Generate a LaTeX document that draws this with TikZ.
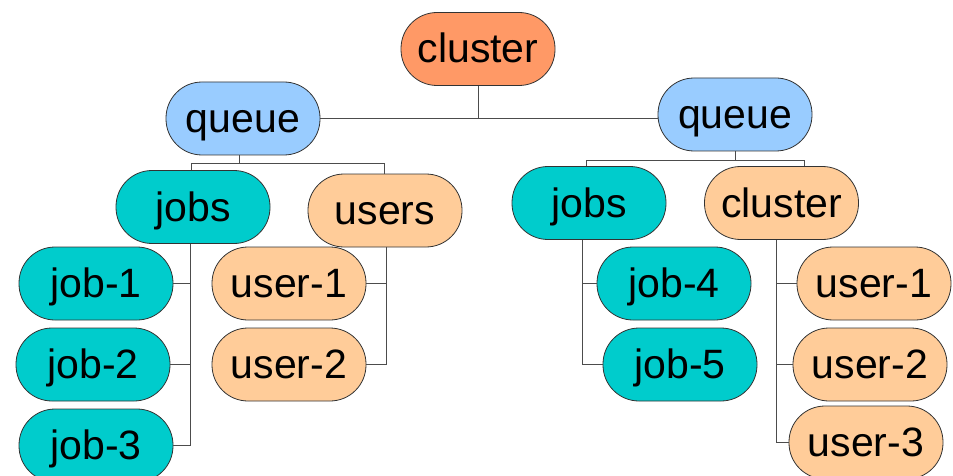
\documentclass[tikz,border=0pt]{standalone}
\usepackage{fontspec}
\setmainfont{Liberation Sans}
\definecolor{rootorange}{HTML}{FF9966}
\definecolor{queueblue}{HTML}{99CCFF}
\definecolor{jobteal}{HTML}{00CCCC}
\definecolor{userpeach}{HTML}{FFCC99}
\begin{document}
\begin{tikzpicture}[x=1pt,y=-1pt,
  box/.style={draw=black!80, line width=0.8pt, rounded corners=36pt,
    minimum width=154pt, minimum height=73pt, inner sep=0pt,
    text height=29pt, text depth=1pt,
    font=\fontsize{41}{48}\selectfont},
  rootbox/.style={box, fill=rootorange},
  queuebox/.style={box, fill=queueblue},
  jobbox/.style={box, fill=jobteal},
  userbox/.style={box, fill=userpeach},
  link/.style={draw=black!70, line width=0.9pt}]
\useasboundingbox (0,0) rectangle (953,476);
\clip (0,0) rectangle (953,476);

% root and queues
\node[rootbox]  (top) at (478,49)    {cluster};
\node[queuebox] (qL)  at (243,118.5) {queue};
\node[queuebox] (qR)  at (735,114.5) {queue};

% left queue subtree
\node[jobbox]  (jobsL)  at (193,207)   {jobs};
\node[userbox] (users)  at (385,210.5) {users};
\node[jobbox]  (job1)   at (96,283.5)  {job-1};
\node[jobbox]  (job2)   at (93,364.5)  {job-2};
\node[jobbox]  (job3)   at (96,445.5)  {job-3};
\node[userbox] (uL1)    at (289,283.5) {user-1};
\node[userbox] (uL2)    at (289,364.5) {user-2};

% right queue subtree
\node[jobbox]  (jobsR)  at (589,203)   {jobs};
\node[userbox] (clR)    at (781.5,203) {cluster};
\node[jobbox]  (job4)   at (674,283.5) {job-4};
\node[jobbox]  (job5)   at (680,364.5) {job-5};
\node[userbox] (uR1)    at (874,283.5) {user-1};
\node[userbox] (uR2)    at (870,364.5) {user-2};
\node[userbox] (uR3)    at (866,442.5) {user-3};

% root to queues
\draw[link] (top.south) -- (top.south |- qL.east);
\draw[link] (qL.east) -- (qR.west |- qL.east);

% left queue bar
\coordinate (qLb)    at (239,163);
\coordinate (jLdrop) at (191,163);
\coordinate (uLdrop) at (384,163);
\draw[link] (qL.south -| qLb) -- (qLb);
\draw[link] (jobsL.north -| jLdrop) -- (jLdrop) -- (uLdrop) -- (users.north -| uLdrop);

% right queue bar
\coordinate (qRb)    at (735,160);
\coordinate (jRdrop) at (586,160);
\coordinate (cRdrop) at (804,160);
\draw[link] (qR.south -| qRb) -- (qRb);
\draw[link] (jobsR.north -| jRdrop) -- (jRdrop) -- (cRdrop) -- (clR.north -| cRdrop);

% spines
\coordinate (jLspine) at (190.5,240);
\coordinate (uLspine) at (386,240);
\coordinate (jRspine) at (582,240);
\coordinate (cRspine) at (776,240);

\draw[link] (jobsL.south -| jLspine) |- (job3.east);
\draw[link] (job1.east) -- (job1.east -| jLspine);
\draw[link] (job2.east) -- (job2.east -| jLspine);

\draw[link] (users.south -| uLspine) |- (uL2.east);
\draw[link] (uL1.east) -- (uL1.east -| uLspine);

\draw[link] (jobsR.south -| jRspine) |- (job5.west);
\draw[link] (job4.west) -- (job4.west -| jRspine);

\draw[link] (clR.south -| cRspine) |- (uR3.west);
\draw[link] (uR1.west) -- (uR1.west -| cRspine);
\draw[link] (uR2.west) -- (uR2.west -| cRspine);
\end{tikzpicture}
\end{document}
